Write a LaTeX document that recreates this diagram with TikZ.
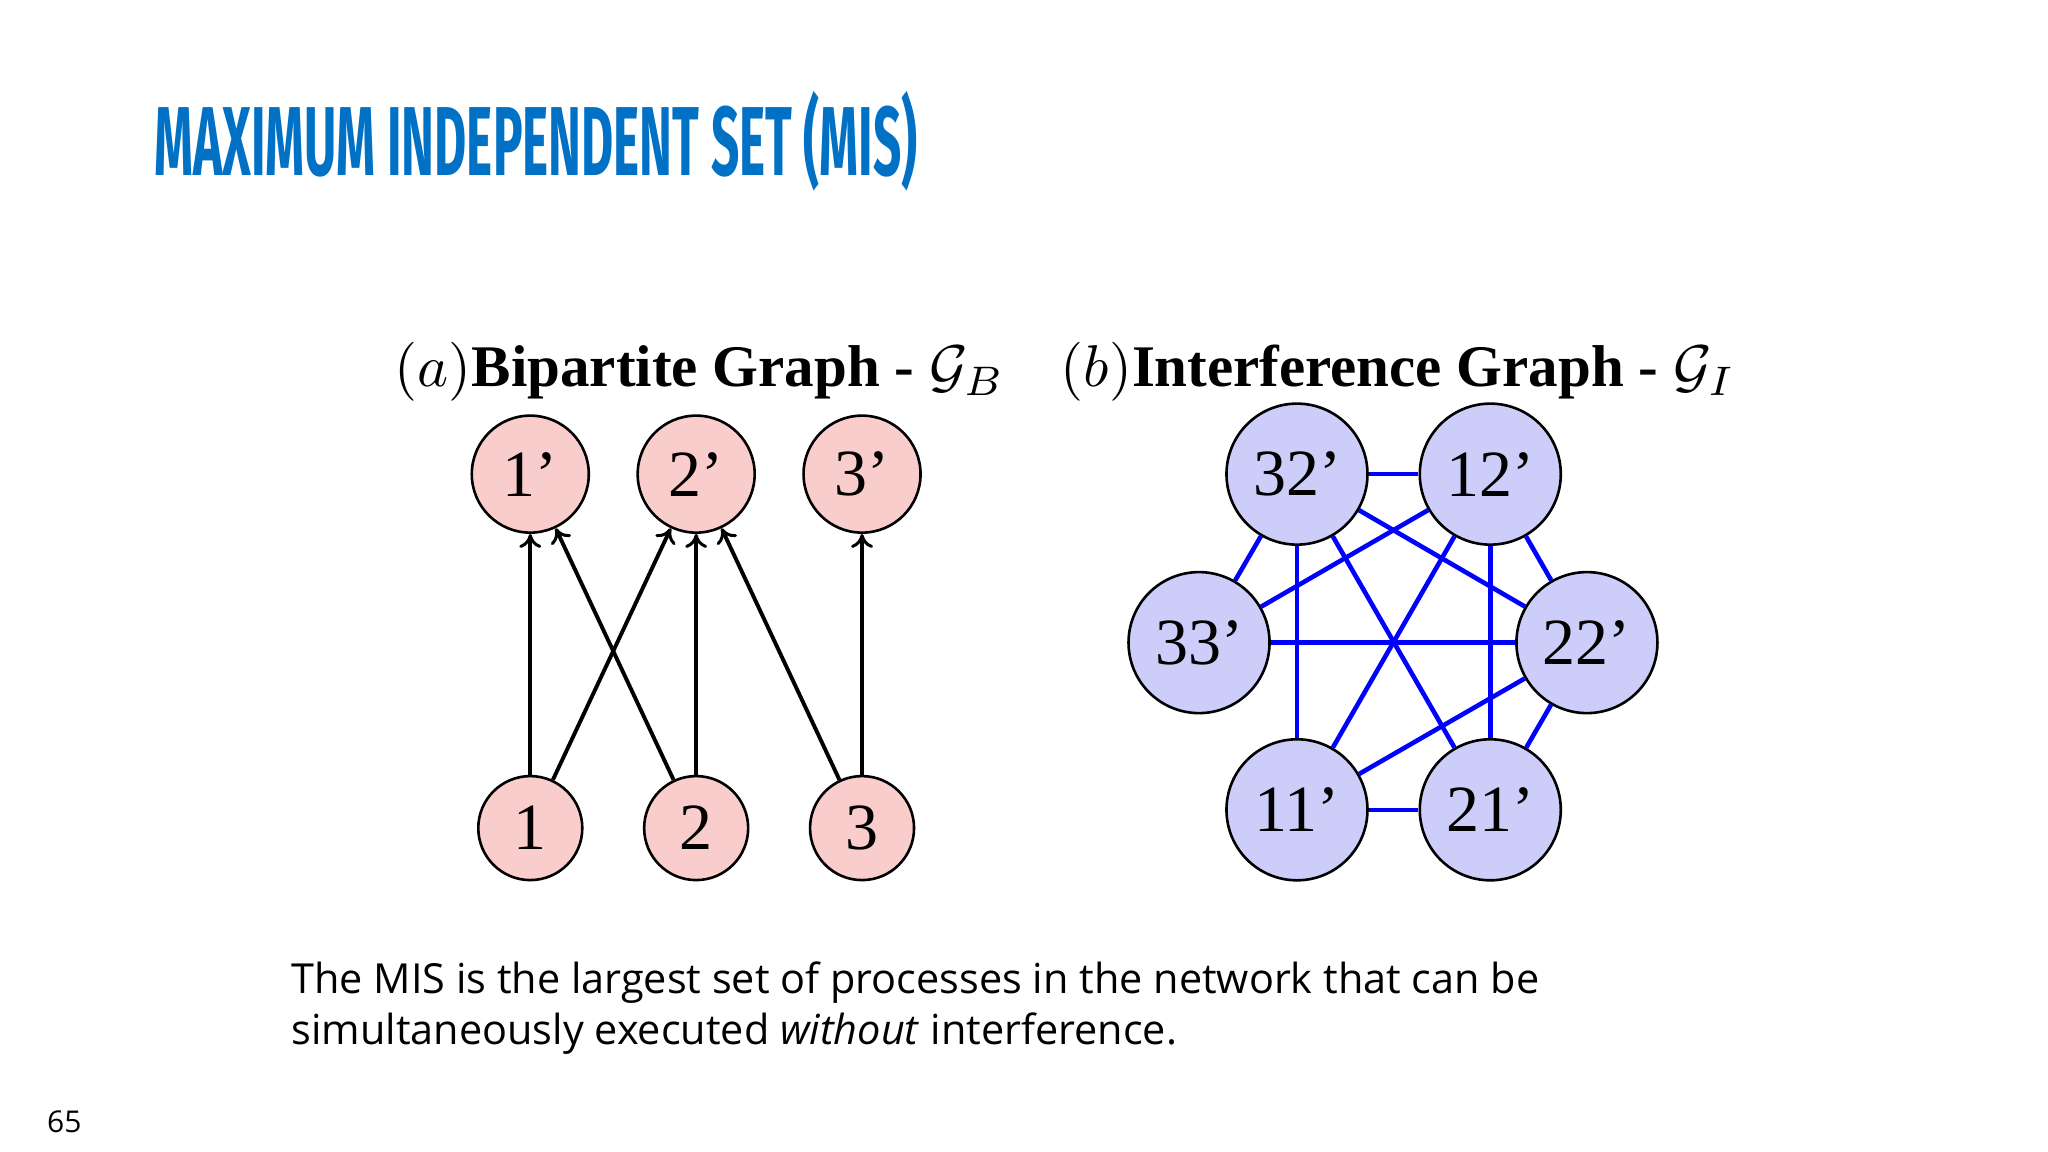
\documentclass[tikz,border=0pt]{standalone}
\usepackage{graphicx}
\usepackage{fontspec}
\setmainfont{Liberation Serif}
\newfontfamily\sansf{Open Sans}
\newfontfamily\titlef{Fira Sans}
\usetikzlibrary{arrows.meta}
\definecolor{titleblue}{RGB}{0,113,197}
\definecolor{pinkfill}{RGB}{250,205,205}
\definecolor{lavfill}{RGB}{205,205,250}
\newcommand{\bigmath}[1]{\scalebox{5.9}{\normalsize$#1$}}
\tikzset{
 pnodeT/.style={circle,draw=black,line width=2.6pt,fill=pinkfill,minimum size=117pt,inner sep=0pt,font=\fontsize{66}{66}\selectfont},
 pnodeB/.style={circle,draw=black,line width=2.6pt,fill=pinkfill,minimum size=104pt,inner sep=0pt,font=\fontsize{66}{66}\selectfont},
 inode/.style={circle,draw=black,line width=2.6pt,fill=lavfill,minimum size=141pt,inner sep=0pt,font=\fontsize{66}{66}\selectfont},
 arr/.style={line width=3.9pt,-{To[length=14pt,width=22pt,line width=3pt]}},
 iedge/.style={line width=4.6pt,blue},
}
\begin{document}
\begin{tikzpicture}[x=1.306pt,y=-1.306pt]
\useasboundingbox (0,0) rectangle (1568,882);
\node[anchor=west,text=titleblue,inner sep=0pt] (title) at (118,108)
 {\scalebox{0.505}[1]{\titlef\bfseries\fontsize{98}{98}\selectfont MAXIMUM INDEPENDENT SET (MIS)}};
\node[anchor=base west,inner sep=0pt,font=\fontsize{59}{59}\selectfont] (ha) at (302,296)
 {\bigmath{(a)}\textbf{Bipartite Graph -} \bigmath{\mathcal{G}_B}};
\node[anchor=base west,inner sep=0pt,font=\fontsize{59}{59}\selectfont] (hb) at (812,296)
 {\bigmath{(b)}\textbf{Interference Graph -} \bigmath{\mathcal{G}_I}};
% bipartite
\node[pnodeT] (p1) at (406,363) {1’};
\node[pnodeT] (p2) at (533,363) {2’};
\node[pnodeT] (p3) at (660,363) {3’};
\node[pnodeB] (q1) at (406,634) {1};
\node[pnodeB] (q2) at (533,634) {2};
\node[pnodeB] (q3) at (660,634) {3};
\draw[arr] (q1) -- (p1);
\draw[arr] (q1) -- (p2);
\draw[arr] (q2) -- (p1);
\draw[arr] (q2) -- (p2);
\draw[arr] (q3) -- (p2);
\draw[arr] (q3) -- (p3);
% interference
\node[inode] (n32) at (993,363) {32’};
\node[inode] (n12) at (1141,363) {12’};
\node[inode] (n33) at (918,492) {33’};
\node[inode] (n22) at (1215,492) {22’};
\node[inode] (n11) at (993,620) {11’};
\node[inode] (n21) at (1141,620) {21’};
\foreach \a/\b in {n32/n12,n32/n33,n32/n11,n32/n21,n32/n22,n12/n33,n12/n11,n12/n21,n12/n22,n33/n22,n22/n11,n22/n21,n11/n21}
 \draw[iedge] (\a) -- (\b);
% body text
\node[anchor=base west,align=left,inner sep=0pt,font=\sansf\fontsize{41.4}{51}\selectfont] (body) at (223,800)
 {The MIS is the largest set of processes in the network that can be\\simultaneously executed \textit{without} interference.};
\node[anchor=base west,inner sep=0pt,font=\sansf\fontsize{30}{30}\selectfont] (num) at (36,867) {65};
\end{tikzpicture}
\end{document}
